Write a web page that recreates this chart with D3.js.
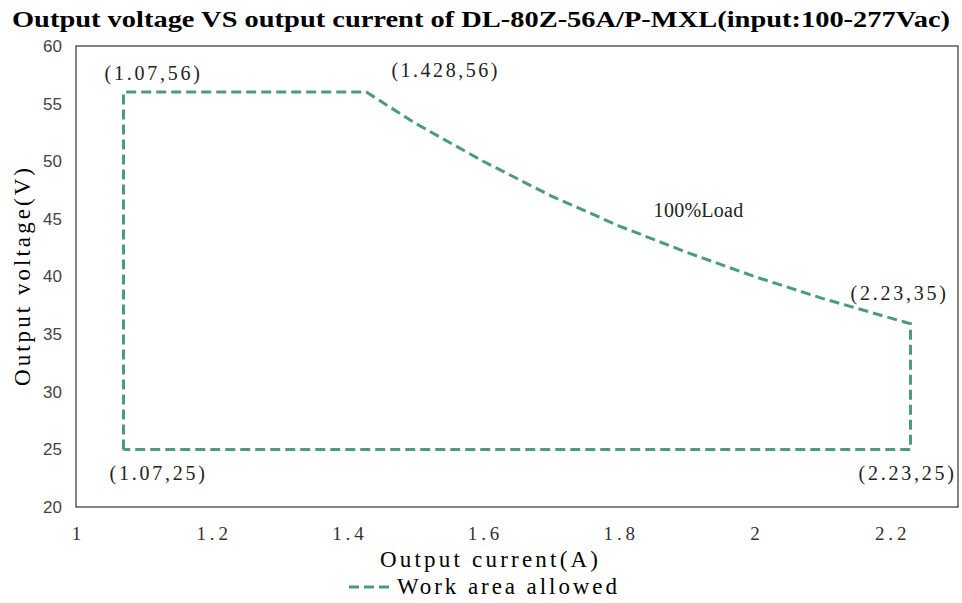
<!DOCTYPE html>
<html>
<head>
<meta charset="utf-8">
<script src="https://cdn.jsdelivr.net/npm/d3@7"></script>
<style>
body { margin: 0; background: #fff; }
</style>
</head>
<body>
<svg id="chart" width="962" height="603"></svg>
<script>
// work area outline
var current = [1.07, 1.07, 1.428, 1.5, 1.6, 1.7, 1.8, 1.9, 2.0, 2.1, 2.23, 2.23, 1.07];
var voltage = [25, 56, 56, 53.3, 50.0, 47.0, 44.4, 42.1, 40.0, 38.1, 35.9, 25, 25];

var xTicks = [1, 1.2, 1.4, 1.6, 1.8, 2, 2.2];
var yTicks = [20, 25, 30, 35, 40, 45, 50, 55, 60];

var pointLabels = ['(1.07,56)', '(1.428,56)', '(2.23,35)', '(1.07,25)', '(2.23,25)', '100%Load'];
var labelAt = [[1.07, 56], [1.428, 56], [2.23, 35.9], [1.07, 25], [2.23, 25], [1.9, 42.1]];

var margin = { top: 46, right: 4, bottom: 96, left: 76 };
var width = 962 - margin.left - margin.right;
var height = 603 - margin.top - margin.bottom;

var x = d3.scaleLinear().domain([1, 2.3]).range([0, width]);
var y = d3.scaleLinear().domain([20, 60]).range([height, 0]);

var serif = '"Liberation Serif", serif';
var green = '#4a9c7d';

var svg = d3.select('#chart');

svg.append('text')
    .attr('x', 12).attr('y', 27)
    .attr('textLength', 938).attr('lengthAdjust', 'spacingAndGlyphs')
    .style('font-family', serif)
    .style('font-weight', 'bold')
    .style('font-size', '24px')
    .text('Output voltage VS output current of DL-80Z-56A/P-MXL(input:100-277Vac)');

var g = svg.append('g')
    .attr('transform', 'translate(' + margin.left + ',' + margin.top + ')');

// plot frame
g.append('rect')
    .attr('width', width).attr('height', height)
    .attr('fill', 'none').attr('stroke', '#333').attr('stroke-width', 1.2);

// axes, labels only
var xAxis = g.append('g')
    .attr('transform', 'translate(0,' + height + ')')
    .call(d3.axisBottom(x).tickValues(xTicks).tickSize(0).tickPadding(20)
        .tickFormat(function (d) { return d3.format('')(d); }));
xAxis.select('.domain').remove();
xAxis.selectAll('text')
    .style('font-family', serif)
    .style('font-size', '19px')
    .attr('fill', '#333')
    .each(function (d) {
        var s = String(d);
        if (s.length > 1) d3.select(this).attr('textLength', s.length * 10.5).attr('lengthAdjust', 'spacing');
    });

var yAxis = g.append('g')
    .call(d3.axisLeft(y).tickValues(yTicks).tickSize(0).tickPadding(14));
yAxis.select('.domain').remove();
yAxis.selectAll('text')
    .style('font-family', '"Liberation Sans", sans-serif')
    .style('font-size', '17px')
    .attr('fill', '#444');

// work area
var line = d3.line()
    .x(function (d, i) { return x(current[i]); })
    .y(function (d, i) { return y(voltage[i]); })
    .curve(d3.curveLinear);

g.append('path')
    .datum(current)
    .attr('d', line)
    .attr('fill', 'none')
    .attr('stroke', green)
    .attr('stroke-width', 3)
    .attr('stroke-dasharray', '10,5');

// point labels
var offsets = [[-19, -12], [25, -15], [-60, -24], [-14, 31], [-52, 31], [-33, -35]];
g.selectAll('.plabel')
    .data(pointLabels)
    .enter().append('text')
    .attr('class', 'plabel')
    .attr('x', function (d, i) { return x(labelAt[i][0]) + offsets[i][0]; })
    .attr('y', function (d, i) { return y(labelAt[i][1]) + offsets[i][1]; })
    .attr('textLength', function (d) { return d.length * (d.charAt(0) === '(' ? 10.6 : 11.2); })
    .attr('lengthAdjust', 'spacing')
    .style('font-family', serif)
    .style('font-size', '20px')
    .attr('fill', '#222')
    .text(function (d) { return d; });

// axis titles
svg.append('text')
    .attr('x', 380).attr('y', 567)
    .attr('textLength', 218).attr('lengthAdjust', 'spacing')
    .style('font-family', serif)
    .style('font-size', '23px')
    .text('Output current(A)');

svg.append('text')
    .attr('transform', 'translate(30,386) rotate(-90)')
    .attr('textLength', 218).attr('lengthAdjust', 'spacing')
    .style('font-family', serif)
    .style('font-size', '23px')
    .text('Output voltage(V)');

// legend
svg.append('line')
    .attr('x1', 349).attr('x2', 393).attr('y1', 587).attr('y2', 587)
    .attr('stroke', green).attr('stroke-width', 3)
    .attr('stroke-dasharray', '10,5');
svg.append('text')
    .attr('x', 397).attr('y', 594)
    .attr('textLength', 220).attr('lengthAdjust', 'spacing')
    .style('font-family', serif)
    .style('font-size', '23px')
    .text('Work area allowed');
</script>
</body>
</html>
